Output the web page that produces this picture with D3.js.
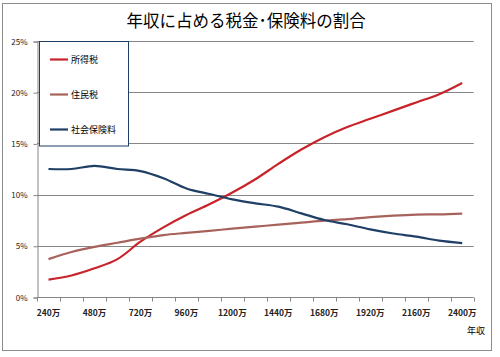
<!DOCTYPE html>
<html><head><meta charset="utf-8">
<script src="https://cdn.jsdelivr.net/npm/d3@7"></script>
<style>body{margin:0;background:#fff}svg{display:block}</style>
</head><body>
<svg id="c" width="500" height="357"></svg>
<script>
const categories = [240,360,480,600,720,840,960,1080,1200,1320,1440,1560,1680,1800,1920,2040,2160,2280,2400];
const incomeTax   = [1.7,2.1,2.8,3.7,5.4,6.8,8.0,9.05,10.2,11.5,13.0,14.4,15.6,16.6,17.4,18.2,19.0,19.8,20.9];
const residentTax = [3.7,4.4,4.9,5.3,5.7,6.05,6.26,6.46,6.67,6.87,7.07,7.26,7.46,7.6,7.8,7.95,8.05,8.07,8.15];
const socialIns   = [12.5,12.5,12.8,12.5,12.3,11.6,10.6,10.06,9.54,9.15,8.82,8.17,7.52,7.1,6.6,6.2,5.9,5.5,5.27];
const yTicks = [0,5,10,15,20,25];
const seriesNames = ["所得税","住民税","社会保険料"];
const seriesColors = ["#C8232B","#A8625C","#1F3F66"];
const seriesData = [incomeTax, residentTax, socialIns];

const svg = d3.select("#c");
const font = "'Noto Sans CJK JP', sans-serif";
svg.append("rect").attr("x",2.5).attr("y",3.5).attr("width",489).attr("height",347)
  .attr("fill","#fff").attr("stroke","#8c8c8c").attr("stroke-width",1);

svg.append("text").attr("x",246).attr("y",27).attr("text-anchor","middle")
  .attr("font-family",font).attr("font-size",16.5).attr("fill","#000")
  .text("年収に占める税金･保険料の割合");

const L=37, R=473.7, T=41, B=297;
const x = d3.scaleBand().domain(categories).range([L,R]);
const y = d3.scaleLinear().domain([0,25]).range([B,T]);

// gridlines
svg.append("g").selectAll("line").data(yTicks.filter(d=>d>0)).join("line")
  .attr("x1",L).attr("x2",R).attr("y1",d=>Math.round(y(d))+0.5).attr("y2",d=>Math.round(y(d))+0.5)
  .attr("stroke","#868686").attr("stroke-width",1);

// y axis
const yAxis = d3.axisLeft(y).tickValues(yTicks).tickFormat(d=>d+"%").tickSize(4).tickPadding(6);
const gy = svg.append("g").attr("transform",`translate(${L+0.5},0.5)`).call(yAxis);
gy.select(".domain").attr("stroke","#868686");
gy.selectAll(".tick line").attr("stroke","#868686");
gy.selectAll("text").attr("font-family",font).attr("font-size",8).attr("fill","#222");

// x axis
const gx = svg.append("g").attr("transform",`translate(0,${B+0.5})`);
gx.append("line").attr("x1",L).attr("x2",R).attr("y1",0).attr("y2",0).attr("stroke","#868686");
const edges = categories.map(c=>x(c)).concat([R]);
gx.selectAll("line.t").data(edges).join("line").attr("class","t")
  .attr("x1",d=>Math.round(d)+0.5).attr("x2",d=>Math.round(d)+0.5).attr("y1",0).attr("y2",4)
  .attr("stroke","#868686");
gx.selectAll("text").data(categories.filter((c,i)=>i%2===0)).join("text")
  .attr("x",d=>x(d)+x.bandwidth()/2).attr("y",18).attr("text-anchor","middle")
  .attr("font-family",font).attr("font-size",8.5).attr("font-weight","bold").attr("fill","#222")
  .text(d=>d+"万");
svg.append("text").attr("x",485).attr("y",334).attr("text-anchor","end")
  .attr("font-family",font).attr("font-size",9).attr("fill","#000").text("年収");

// lines
const line = d3.line().x((d,i)=>x(categories[i])+x.bandwidth()/2).y(d=>y(d)).curve(d3.curveCatmullRom);
svg.append("g").selectAll("path").data(seriesData).join("path")
  .attr("d",d=>line(d)).attr("fill","none").attr("stroke",(d,i)=>seriesColors[i])
  .attr("stroke-width",2.2).attr("stroke-linejoin","round");

// legend
const lg = svg.append("g");
lg.append("rect").attr("x",39.5).attr("y",41.5).attr("width",89).attr("height",104.5)
  .attr("fill","#fff").attr("stroke","#1F3F66").attr("stroke-width",1);
const ly = [59.5,94.5,129.5];
seriesNames.forEach((n,i)=>{
  lg.append("line").attr("x1",50).attr("x2",68).attr("y1",ly[i]).attr("y2",ly[i])
    .attr("stroke",seriesColors[i]).attr("stroke-width",2.2);
  lg.append("text").attr("x",71).attr("y",ly[i]+3.5).attr("font-family",font)
    .attr("font-size",9).attr("fill","#000").text(n);
});
</script>
</body></html>
